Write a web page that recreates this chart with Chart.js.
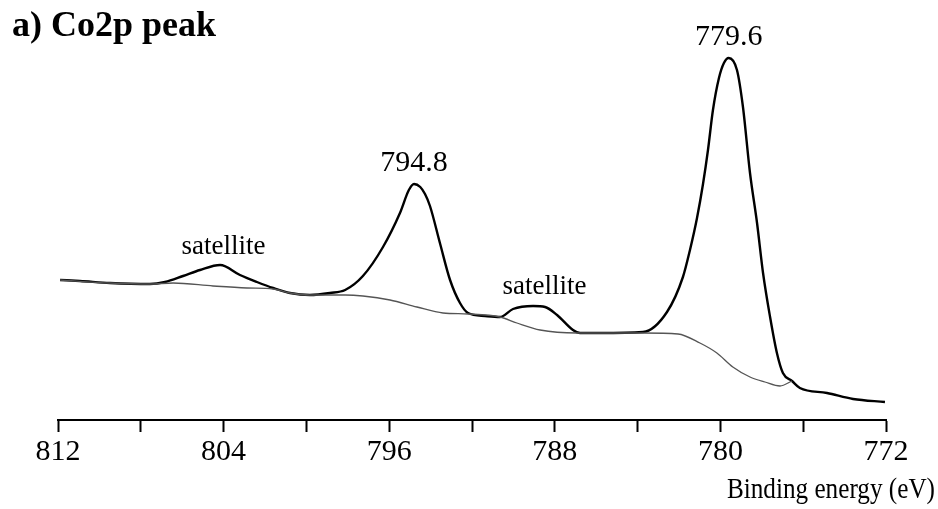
<!DOCTYPE html>
<html>
<head>
<meta charset="utf-8">
<title>Co2p peak</title>
<script src="https://cdn.jsdelivr.net/npm/chart.js@4/dist/chart.umd.min.js"></script>
<style>
  html, body { margin: 0; padding: 0; background: #ffffff; }
  #wrap { width: 938px; height: 509px; }
</style>
</head>
<body>
<div id="wrap"><canvas id="xps" width="938" height="509"></canvas></div>
<script>
// Co 2p XPS spectrum: measured envelope and Shirley-type background (arb. units)
const specEnergy = [811.90, 810.94, 809.49, 807.56, 806.83, 805.96, 805.14, 804.17, 803.21, 802.39,
  801.61, 800.79, 799.83, 798.86, 798.13, 797.27, 796.30, 795.48, 795.05, 794.80,
  794.50, 794.27, 794.03, 793.55, 793.06, 792.58, 792.19, 791.37, 790.65, 790.02,
  789.05, 788.47, 787.89, 787.12, 786.78, 785.82, 783.74, 782.58, 781.81, 781.47,
  781.13, 780.84, 780.60, 780.36, 780.07, 779.83, 779.60, 779.20, 778.91, 778.57,
  778.23, 777.94, 777.60, 777.27, 776.98, 776.54, 776.16, 774.85, 773.59, 772.05];
const specCounts = [140, 139, 137, 136, 138, 144, 150, 155, 145, 138,
  132, 127, 125, 127, 130, 144, 173, 207, 230, 236,
  233, 226, 214, 177, 140, 117, 107, 104, 103, 111,
  114, 113, 105, 90, 87, 87, 88, 108, 143, 170,
  202, 236, 270, 310, 342, 357, 362, 350, 313, 247,
  197, 147, 103, 67, 47, 39, 32, 27, 21, 18];

const bgEnergy = [811.90, 809.49, 807.56, 806.44, 804.51, 802.87, 801.61, 800.79, 799.83, 798.13,
  797.27, 795.96, 794.66, 793.40, 792.19, 790.65, 789.83, 788.71, 786.93, 783.74,
  782.05, 780.99, 780.17, 779.40, 778.57, 777.85, 777.12, 776.54];
const bgCounts = [140, 137, 136, 137, 134, 132, 131, 127, 125, 125,
  124, 120, 113, 107, 106, 103, 97, 90, 87, 87,
  86, 77, 67, 53, 43, 38, 34, 39];

// axis ticks every 4 eV, labelled every 8 eV
const tickLabels = ['812', '804', '796', '788', '780', '772'];

// peak annotations
const peakText = ['satellite', '794.8', 'satellite', '779.6'];
const peakEnergy = [804.0, 794.8, 788.5, 779.6];

const SERIF = '"Liberation Serif", "DejaVu Serif", serif';

function countsAt(e) {
  for (let i = 0; i < specEnergy.length - 1; i++) {
    const a = specEnergy[i], b = specEnergy[i + 1];
    if ((e <= a && e >= b)) {
      const t = (a - e) / (a - b);
      return specCounts[i] + t * (specCounts[i + 1] - specCounts[i]);
    }
  }
  return specCounts[specCounts.length - 1];
}

const textLayer = {
  id: 'textLayer',
  afterDatasetsDraw(chart) {
    const ctx = chart.ctx;
    const xs = chart.scales.x, ys = chart.scales.y;
    ctx.save();
    ctx.fillStyle = '#000';

    // panel title
    ctx.font = 'bold 36px ' + SERIF;
    ctx.textAlign = 'left';
    ctx.textBaseline = 'alphabetic';
    ctx.fillText('a) Co2p peak', 12, 36);

    // peak labels, placed just above each peak of the spectrum
    peakText.forEach((txt, i) => {
      const px = xs.getPixelForValue(peakEnergy[i]);
      const py = ys.getPixelForValue(countsAt(peakEnergy[i]));
      ctx.font = (txt === 'satellite' ? '27px ' : '30px ') + SERIF;
      ctx.textAlign = 'center';
      ctx.fillText(txt, px, py - 13);
    });

    // axis title, right aligned under the axis
    ctx.save();
    ctx.translate(935, 498);
    ctx.scale(0.84, 1);
    ctx.font = '30px ' + SERIF;
    ctx.textAlign = 'right';
    ctx.fillText('Binding energy (eV)', 0, 0);
    ctx.restore();

    ctx.restore();
  }
};

const toPoints = (ex, cy) => ex.map((e, i) => ({ x: e, y: cy[i] }));

new Chart(document.getElementById('xps'), {
  type: 'line',
  data: {
    datasets: [
      {
        label: 'Background',
        data: toPoints(bgEnergy, bgCounts),
        borderColor: '#555555',
        borderWidth: 1.3,
        pointRadius: 0,
        cubicInterpolationMode: 'monotone',
        fill: false
      },
      {
        label: 'Co 2p',
        data: toPoints(specEnergy, specCounts),
        borderColor: '#000000',
        borderWidth: 2.4,
        pointRadius: 0,
        cubicInterpolationMode: 'monotone',
        fill: false
      }
    ]
  },
  options: {
    responsive: false,
    animation: false,
    devicePixelRatio: 1,
    layout: { padding: { left: 58, right: 52, top: 20, bottom: 37 } },
    plugins: {
      legend: { display: false },
      title: { display: false },
      tooltip: { enabled: false }
    },
    scales: {
      x: {
        type: 'linear',
        reverse: true,
        min: 772,
        max: 812,
        grid: {
          drawOnChartArea: false,
          drawTicks: true,
          tickLength: 12,
          tickWidth: 2,
          tickColor: '#000'
        },
        border: { display: true, color: '#000', width: 2 },
        ticks: {
          stepSize: 4,
          autoSkip: false,
          maxRotation: 0,
          padding: 2,
          color: '#000',
          font: { family: SERIF, size: 30 },
          callback: (v) => tickLabels.includes(String(v)) ? String(v) : ''
        }
      },
      y: {
        display: false,
        min: 0,
        max: 400
      }
    }
  },
  plugins: [textLayer]
});
</script>
</body>
</html>
